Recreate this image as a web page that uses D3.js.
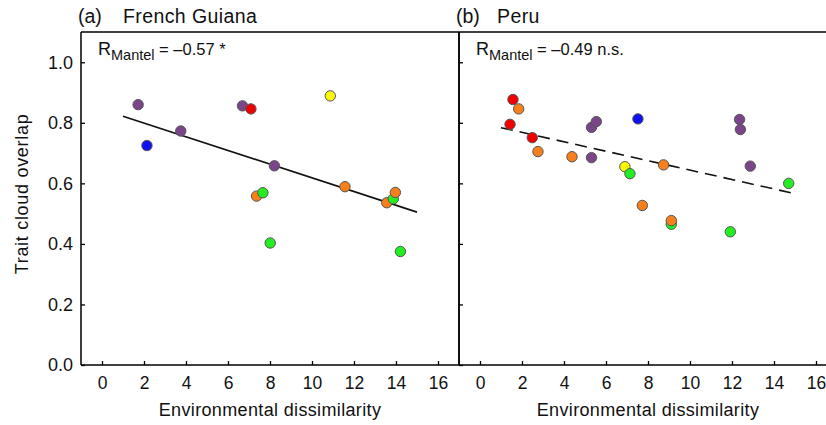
<!DOCTYPE html>
<html>
<head>
<meta charset="utf-8">
<script src="https://cdn.jsdelivr.net/npm/d3@7"></script>
<style>
  body { margin: 0; background: #fff; }
  svg { font-family: "Liberation Sans", Arial, sans-serif; }
</style>
</head>
<body>
<svg id="chart" width="826" height="425"></svg>
<script>
// colour groups used for the points
const groupColors = {
  purple: "#7a4589",
  blue: "#1010f0",
  red: "#f00000",
  orange: "#f7801c",
  yellow: "#f8f800",
  green: "#22ee22"
};

// (a) French Guiana
const guianaX = [1.72, 2.14, 3.75, 6.69, 7.09, 10.87, 8.21, 11.57, 7.36, 7.66, 8.01, 13.56, 13.87, 13.97, 14.21];
const guianaY = [0.860, 0.725, 0.773, 0.856, 0.846, 0.889, 0.658, 0.589, 0.558, 0.569, 0.403, 0.536, 0.549, 0.570, 0.375];
const guianaGroup = ["purple", "blue", "purple", "purple", "red", "yellow", "purple", "orange", "orange", "green", "green", "orange", "green", "orange", "green"];
const guianaFitX = [1, 15];
const guianaFitY = [0.822, 0.505];

// (b) Peru
const peruX = [1.57, 1.84, 1.43, 2.49, 2.76, 4.38, 5.31, 5.54, 5.31, 7.52, 6.90, 7.14, 8.74, 12.36, 12.40, 12.87, 14.70, 7.73, 9.11, 9.11, 11.92];
const peruY = [0.877, 0.846, 0.795, 0.751, 0.705, 0.688, 0.785, 0.804, 0.685, 0.813, 0.655, 0.632, 0.661, 0.811, 0.778, 0.657, 0.600, 0.527, 0.465, 0.477, 0.440];
const peruGroup = ["red", "orange", "red", "red", "orange", "orange", "purple", "purple", "purple", "blue", "yellow", "green", "orange", "purple", "purple", "purple", "green", "orange", "green", "orange", "green"];
const peruFitX = [1, 14.8];
const peruFitY = [0.784, 0.569];

const xTicks = [0, 2, 4, 6, 8, 10, 12, 14, 16];
const yTicks = [0, 0.2, 0.4, 0.6, 0.8, 1.0];

const svg = d3.select("#chart");

const plotTop = 32, plotBottom = 365;
const y = d3.scaleLinear().domain([0, 1.1]).range([plotBottom, plotTop]);

function drawPanel(opts) {
  const x = d3.scaleLinear().domain([-1, 17]).range([opts.left, opts.left + 378]);
  const g = svg.append("g");

  // x axis, ticks pointing inward
  const xAxis = g.append("g")
    .attr("transform", `translate(0,${plotBottom})`)
    .call(d3.axisBottom(x).tickValues(xTicks).tickSize(-4).tickFormat(d3.format("d")));
  xAxis.select(".domain").remove();
  xAxis.selectAll("line").attr("stroke", "#000").attr("stroke-width", 1.3);
  xAxis.selectAll("text").attr("font-size", 17.5).attr("fill", "#111")
    .attr("dy", null).attr("y", 23.5);

  // y axis
  const yAxis = g.append("g")
    .attr("transform", `translate(${opts.left},0)`)
    .call(d3.axisLeft(y).tickValues(yTicks).tickSize(-4).tickPadding(8).tickFormat(opts.yLabels ? d3.format(".1f") : ""));
  yAxis.select(".domain").remove();
  yAxis.selectAll("line").attr("stroke", "#000").attr("stroke-width", 1.3);
  yAxis.selectAll("text").attr("font-size", 18).attr("fill", "#111");

  // frame
  const right = opts.left + 378;
  g.append("line").attr("x1", opts.left).attr("x2", right).attr("y1", plotTop).attr("y2", plotTop)
    .attr("stroke", "#000").attr("stroke-width", 1.5);
  g.append("line").attr("x1", opts.left).attr("x2", right).attr("y1", plotBottom).attr("y2", plotBottom)
    .attr("stroke", "#000").attr("stroke-width", 1.5);
  g.append("line").attr("x1", opts.left).attr("x2", opts.left).attr("y1", plotTop).attr("y2", plotBottom)
    .attr("stroke", "#000").attr("stroke-width", 1.5);
  g.append("line").attr("x1", right).attr("x2", right).attr("y1", plotTop).attr("y2", plotBottom)
    .attr("stroke", "#000").attr("stroke-width", 1.5);

  // fitted line
  const fit = opts.fitX.map((v, i) => [v, opts.fitY[i]]);
  g.append("path")
    .datum(fit)
    .attr("d", d3.line().x(d => x(d[0])).y(d => y(d[1])))
    .attr("fill", "none")
    .attr("stroke", "#111")
    .attr("stroke-width", 1.6)
    .attr("stroke-dasharray", opts.dashed ? "12,7" : null);

  // points
  const pts = opts.xs.map((v, i) => ({ x: v, y: opts.ys[i], c: opts.groups[i] }));
  g.append("g").selectAll("circle")
    .data(pts)
    .enter()
    .append("circle")
    .attr("cx", d => x(d.x))
    .attr("cy", d => y(d.y))
    .attr("r", 5.2)
    .attr("fill", d => groupColors[d.c])
    .attr("stroke", "#555")
    .attr("stroke-width", 1);

  // panel title
  g.append("text").attr("x", opts.left - 3).attr("y", 22.5).attr("font-size", 19.5).attr("fill", "#111").text(opts.tag);
  g.append("text").attr("x", opts.titleX).attr("y", 22.5).attr("font-size", 19.5).attr("letter-spacing", 0.4).attr("fill", "#111").text(opts.title);

  // R Mantel label
  const r = g.append("text").attr("x", opts.left + 17).attr("y", 55).attr("font-size", 18).attr("fill", "#111");
  r.append("tspan").text("R");
  r.append("tspan").attr("font-size", 14.5).attr("dy", 4.5).text("Mantel");
  r.append("tspan").attr("dy", -4.5).attr("font-size", 16.5).text(opts.stat);

  // x title
  g.append("text")
    .attr("x", x(8)).attr("y", 415.5)
    .attr("text-anchor", "middle").attr("font-size", 18).attr("letter-spacing", 0.35).attr("fill", "#111")
    .text("Environmental dissimilarity");
}

drawPanel({
  left: 81, xs: guianaX, ys: guianaY, groups: guianaGroup,
  fitX: guianaFitX, fitY: guianaFitY, dashed: false, yLabels: true,
  tag: "(a)", title: "French Guiana", titleX: 123, stat: " = \u20130.57 *"
});
drawPanel({
  left: 459, xs: peruX, ys: peruY, groups: peruGroup,
  fitX: peruFitX, fitY: peruFitY, dashed: true, yLabels: false,
  tag: "(b)", title: "Peru", titleX: 497, stat: " = \u20130.49 n.s."
});

// y title
svg.append("text")
  .attr("transform", `translate(28,194) rotate(-90)`)
  .attr("text-anchor", "middle").attr("font-size", 18).attr("letter-spacing", 0.7).attr("fill", "#111")
  .text("Trait cloud overlap");
</script>
</body>
</html>
